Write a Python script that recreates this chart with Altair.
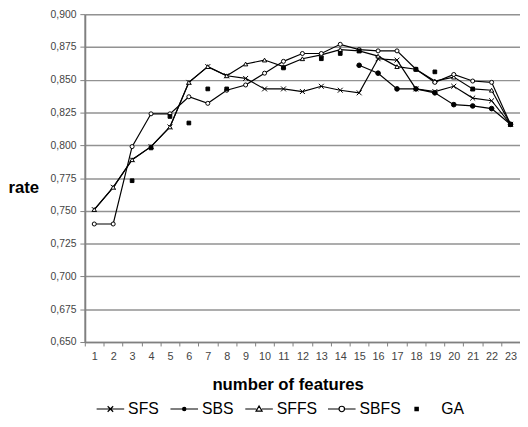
import altair as alt
import pandas as pd

features = list(range(1, 24))
series_order = ["SFS", "SBS", "SFFS", "SBFS", "GA"]

sfs = [0.751, 0.768, 0.789, 0.799, 0.814, 0.848, 0.860, 0.853, 0.851, 0.843, 0.843, 0.841,
       0.845, 0.842, 0.840, 0.866, 0.865, 0.843, 0.841, 0.845, 0.836, 0.834, 0.816]
sbs = [None] * 14 + [0.861, 0.855, 0.843, 0.843, 0.840, 0.831, 0.830, 0.828, 0.816]
sffs = [0.751, 0.768, 0.789, 0.799, 0.814, 0.848, 0.860, 0.853, 0.862, 0.865, 0.860, 0.866,
        0.869, 0.873, 0.872, 0.868, 0.860, 0.858, 0.849, 0.852, 0.843, 0.842, 0.816]
sbfs = [0.740, 0.740, 0.799, 0.824, 0.824, 0.837, 0.832, 0.842, 0.846, 0.855, 0.864, 0.870,
        0.870, 0.877, 0.873, 0.872, 0.872, 0.858, 0.848, 0.854, 0.849, 0.848, 0.816]
ga = [None, None, 0.773, 0.798, 0.822, 0.817, 0.843, 0.843, None, None, 0.859, None,
      0.866, 0.870, 0.872, None, None, 0.858, 0.856, None, 0.843, None, 0.816]

rows = []
for name, vals in zip(series_order, [sfs, sbs, sffs, sbfs, ga]):
    for n, v in zip(features, vals):
        if v is not None:
            rows.append({"n": n, "rate": v, "series": name})
df = pd.DataFrame(rows)

y_ticks = [0.650, 0.675, 0.700, 0.725, 0.750, 0.775, 0.800, 0.825, 0.850, 0.875, 0.900]

FONT = "Liberation Sans"

x_enc = alt.X(
    "n:O",
    bandPosition=0.5,
    scale=alt.Scale(type="band", domain=features, paddingInner=0, paddingOuter=0),
    axis=alt.Axis(
        title="number of features", titleFontSize=17, titleFontWeight="bold",
        titleFont=FONT, titleColor="black", titleBaseline="middle", titleY=43,
        titleX=206, titleAlign="center",
        labelAngle=0, labelFontSize=11, labelFont=FONT, labelColor="#444",
        labelPadding=5, tickBand="extent", tickSize=4, tickColor="#808080",
        domainColor="#808080", domainWidth=1.5, grid=False,
    ),
)
y_enc = alt.Y(
    "rate:Q",
    scale=alt.Scale(domain=[0.65, 0.90], nice=False, zero=False),
    axis=alt.Axis(
        values=y_ticks,
        labelExpr="replace(format(datum.value, '.3f'), '.', ',')",
        labelFontSize=10.5, labelFont=FONT, labelColor="#444", labelPadding=4,
        tickSize=5, tickColor="#808080", domainColor="#808080", domainWidth=2,
        gridColor="#929292", gridWidth=1.5,
        title="rate", titleAngle=0, titleAlign="left", titleBaseline="middle",
        titleX=-78, titleY=176, titleFontSize=17, titleFontWeight="bold",
        titleFont=FONT, titleColor="black",
    ),
)

lines = alt.Chart(df).transform_filter("datum.series != 'GA'").mark_line(
    color="black", strokeWidth=1.2
).encode(x=x_enc, y=y_enc, detail="series:N")

point_shapes = ["M-1,-1L1,1M-1,1L1,-1", "circle", "triangle-up", "circle", "square"]
point_sizes = [25, 14, 40, 38, 28]
fills = ["transparent", "black", "white", "white", "black"]
strokes = ["black"] * 5

points = alt.Chart(df).mark_point(filled=True, stroke="black", strokeWidth=1, opacity=1).encode(
    x=x_enc, y=y_enc,
    shape=alt.Shape("series:N", scale=alt.Scale(domain=series_order, range=point_shapes), legend=None),
    fill=alt.Fill("series:N", scale=alt.Scale(domain=series_order, range=fills), legend=None),
    size=alt.Size("series:N", scale=alt.Scale(domain=series_order, range=point_sizes), legend=None),
)

legend_paths = [
    "M-1,0L1,0M-0.2,-0.2L0.2,0.2M-0.2,0.2L0.2,-0.2",
    "M-1,0L1,0M-0.12,0A0.12,0.12 0 1,0 0.12,0A0.12,0.12 0 1,0 -0.12,0Z",
    "M-1,0L-0.2,0M0.2,0L1,0M0,-0.22L0.22,0.16L-0.22,0.16Z",
    "M-1,0L-0.2,0M0.2,0L1,0M-0.2,0A0.2,0.2 0 1,0 0.2,0A0.2,0.2 0 1,0 -0.2,0Z",
    "M-0.62,-0.12L-0.38,-0.12L-0.38,0.12L-0.62,0.12Z",
]

legend_layer = alt.Chart(df).mark_point(filled=True, strokeWidth=1.2, opacity=0).encode(
    x=x_enc, y=y_enc,
    shape=alt.Shape(
        "series:N",
        scale=alt.Scale(domain=series_order, range=legend_paths),
        legend=alt.Legend(
            title=None, orient="none", legendX=11, legendY=386, direction="horizontal",
            symbolSize=784, symbolStrokeWidth=1.2, symbolOpacity=1,
            labelFontSize=16, labelFont=FONT, labelColor="black", labelOffset=3,
            columnPadding=8, padding=0,
        ),
    ),
    fill=alt.Fill("series:N", scale=alt.Scale(domain=series_order, range=fills)),
    stroke=alt.Stroke("series:N", scale=alt.Scale(domain=series_order, range=strokes)),
)

chart = alt.layer(lines, points, legend_layer).resolve_scale(
    shape="independent", fill="independent", stroke="independent"
).properties(
    width=442, height=333,
    autosize=alt.AutoSizeParams(type="none"),
    padding={"left": 78, "top": 3, "right": 0, "bottom": 80},
).configure_view(stroke=None).configure(background="white")

chart.save("out.html", embed_options={"renderer": "svg", "actions": False})
